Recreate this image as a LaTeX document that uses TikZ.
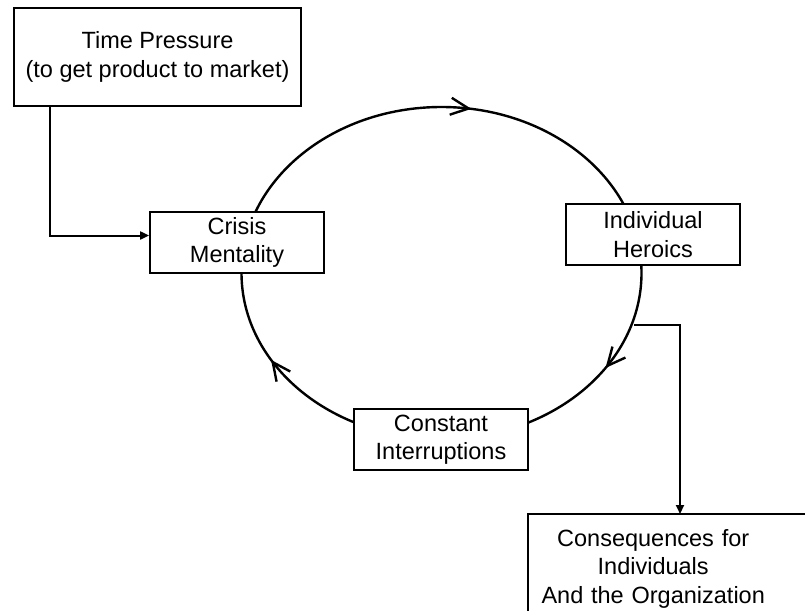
\documentclass[tikz,border=0pt]{standalone}
\usepackage{fontspec}
\setmainfont{Liberation Sans}
\usepackage{tikz}
\usetikzlibrary{positioning,arrows.meta,decorations.markings}

\begin{document}
\begin{tikzpicture}[
        x=1pt, y=-1pt,
        font=\fontsize{23.5}{28.5}\selectfont,
        block/.style={
            draw, line width=1.8pt, fill=white,
            align=center, inner sep=0pt,
            minimum width=174pt, minimum height=61pt
        },
        link/.style={line width=2pt, -{Triangle[length=9pt,width=8pt]}},
        cycleline/.style={
            line width=2.4pt,
            decoration={markings,
                mark=at position 0.09 with {\arrow{Straight Barb[length=18pt,width=17pt]}},
                mark=at position 0.419 with {\arrow{Straight Barb[length=18pt,width=17pt]}},
                mark=at position 0.776 with {\arrow{Straight Barb[length=18pt,width=17pt]}}
            },
            postaction=decorate
        }
    ]
        \useasboundingbox (0,0) rectangle (805,610);

        % the loop
        \coordinate (ctr) at (441.5,273);
        \draw[cycleline] (ctr) ellipse [x radius=200, y radius=166];

        \node[block, minimum width=287pt, minimum height=98pt] (tp) at (157.5,57) {Time Pressure\\(to get product to market)};
        \node[block] (crisis) at (237,242.5) {Crisis\\Mentality};
        \node[block] (heroics) at (653,234.5) {Individual\\Heroics};
        \node[block] (interrupt) at (441,439.5) {Constant\\Interruptions};

        % box runs off the page
        \node[align=center, text width=250pt, inner xsep=0pt, inner ysep=15pt, anchor=north west] (cons) at (528,514) {Consequences for\\Individuals\\And the Organization};
        \draw[line width=1.8pt] (cons.south west) -- (cons.north west) -- ++(300,0);

        \draw[link] ([xshift=37pt]tp.south west) |- ([yshift=7pt]crisis.west);
        \coordinate (branch) at (634,325);
        \draw[link] (branch) -| ([xshift=152pt]cons.north west);
    \end{tikzpicture}
\end{document}
